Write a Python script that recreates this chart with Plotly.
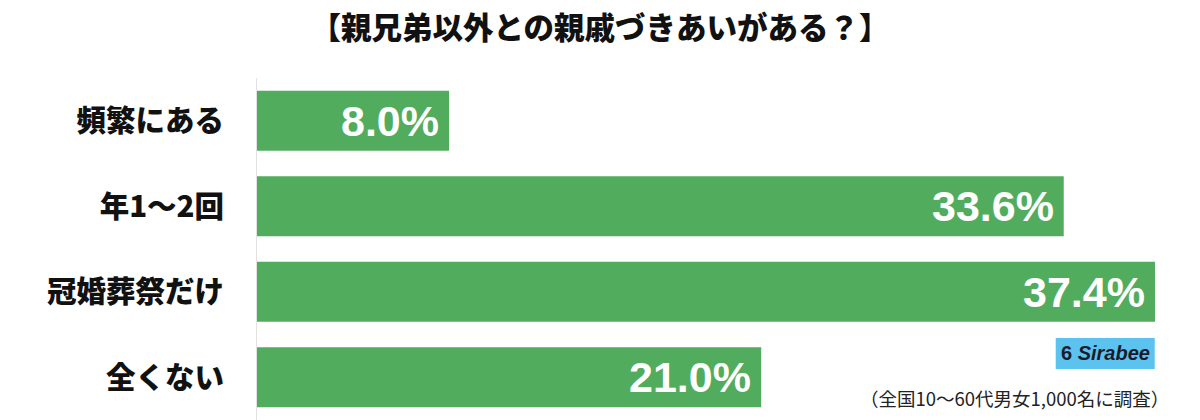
import plotly.graph_objects as go

categories = ["頻繁にある", "年1〜2回", "冠婚葬祭だけ", "全くない"]
values = [8.0, 33.6, 37.4, 21.0]
value_labels = ["8.0%", "33.6%", "37.4%", "21.0%"]
title_text = "【親兄弟以外との親戚づきあいがある？】"
footnote = "（全国10〜60代男女1,000名に調査）"
brand = "Sirabee"

BAR = "#52AC5E"
JP = "Noto Sans CJK JP"

fig = go.Figure()
fig.add_trace(go.Bar(
    x=values, y=categories, orientation="h",
    marker=dict(color=BAR, line=dict(width=0)),
    hoverinfo="skip",
))

for v, c, t in zip(values, categories, value_labels):
    fig.add_annotation(
        x=v, y=c, xref="x", yref="y", text=t, showarrow=False,
        xanchor="right", yanchor="middle", xshift=-8,
        font=dict(family="Liberation Sans", size=43, color="white", weight="bold"),
    )

# Logo box
fig.add_shape(type="rect", xref="paper", yref="paper",
              x0=0.847, x1=0.952, y0=0.149, y1=0.240,
              fillcolor="#5CC3EE", line=dict(width=0), layer="above")
fig.add_annotation(
    xref="paper", yref="paper", x=0.8995, y=0.1945,
    text="<b>6</b> <b><i>" + brand + "</i></b>", showarrow=False,
    xanchor="center", yanchor="middle",
    font=dict(family="Liberation Sans", size=20, color="#1b1b2b"),
)
fig.add_annotation(
    xref="paper", yref="paper", x=0.969, y=0.064,
    text=footnote, showarrow=False, xanchor="right", yanchor="middle",
    font=dict(family=JP, size=18.5, color="#222222"),
)

fig.update_layout(
    width=1200, height=420,
    margin=dict(l=257, r=0, t=78, b=0, pad=0),
    paper_bgcolor="white", plot_bgcolor="white",
    bargap=0.297,
    showlegend=False,
    title=dict(text=title_text, x=0.5, xanchor="center", y=1 - 28 / 420,
               yanchor="middle", yref="container",
               font=dict(family=JP, size=30.5, color="#111111", weight=900)),
    xaxis=dict(range=[0, 943 / 24.01], visible=False, fixedrange=True),
    yaxis=dict(autorange="reversed", showline=True, linecolor="#e2e2e2",
               linewidth=1, showgrid=False, zeroline=False, ticks="",
               ticklabelstandoff=26,
               tickfont=dict(family=JP, size=29.5, color="#111111", weight=900),
               fixedrange=True),
)

fig.write_html("out.html")
